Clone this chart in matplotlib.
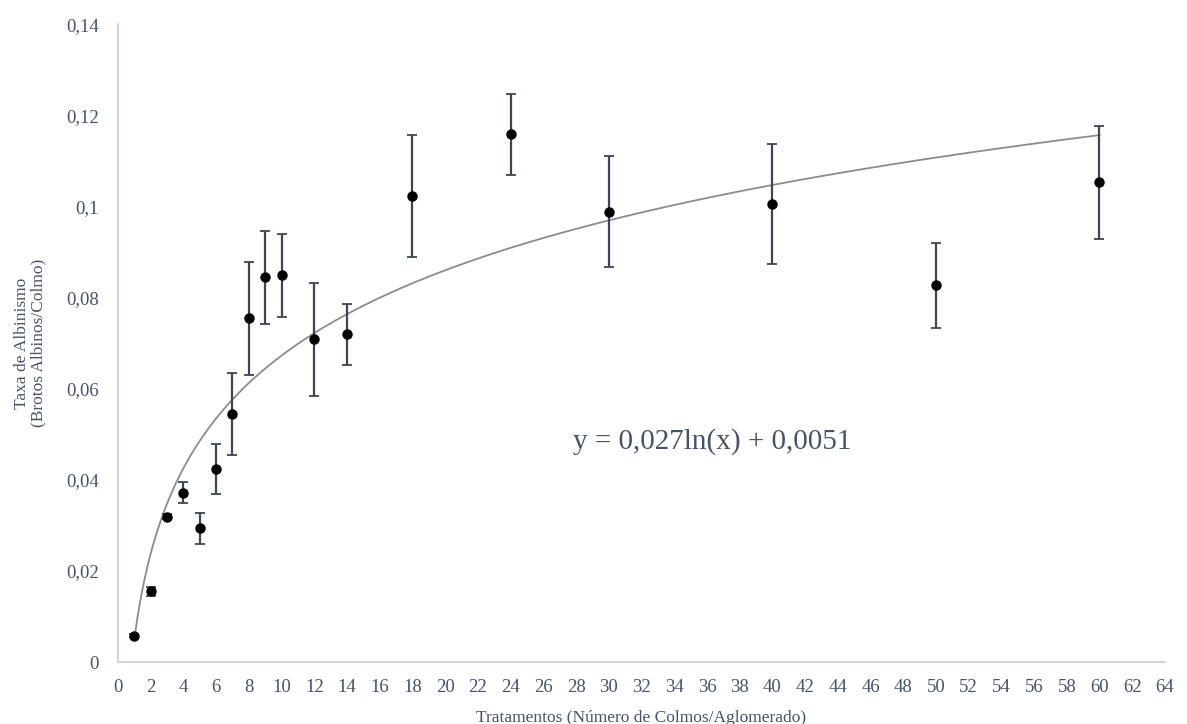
import matplotlib.pyplot as plt
import numpy as np

plt.rcParams['font.family'] = ['Liberation Serif', 'DejaVu Serif']

# tratamentos (numero de colmos por aglomerado)
tratamentos = [1, 2, 3, 4, 5, 6, 7, 8, 9, 10, 12, 14, 18, 24, 30, 40, 50, 60]
taxa = [0.0058, 0.0155, 0.0319, 0.0372, 0.0294, 0.0423, 0.0545, 0.0755, 0.0845,
        0.0849, 0.0708, 0.0719, 0.1023, 0.1158, 0.0988, 0.1006, 0.0827, 0.1053]
erro = [0.0003, 0.0010, 0.0005, 0.0024, 0.0034, 0.0055, 0.0090, 0.0124, 0.0102,
        0.0091, 0.0124, 0.0067, 0.0134, 0.0089, 0.0122, 0.0132, 0.0093, 0.0124]

# coeficientes da linha de tendencia logaritmica
coef_a = 0.027
coef_b = 0.0051

y_ticks = [0, 0.02, 0.04, 0.06, 0.08, 0.1, 0.12, 0.14]
y_labels = ['0', '0,02', '0,04', '0,06', '0,08', '0,1', '0,12', '0,14']
x_ticks = list(range(0, 65, 2))

txt = '#44546A'
fig = plt.figure(figsize=(11.87, 7.24), dpi=100)
ax = fig.add_axes([0.0994, 0.0856, 0.882, 0.881])

xt = np.linspace(1, 60, 300)
ax.plot(xt, coef_a * np.log(xt) + coef_b, color='#8C8C8C', lw=1.3, zorder=2)

ax.errorbar(tratamentos, taxa, yerr=erro, fmt='o', color='black', ms=6.5,
            ecolor='#3B4656', elinewidth=1.6, capsize=3.5, capthick=1.3, zorder=3)

ax.text(36.3, 0.0484, 'y = 0,027ln(x) + 0,0051', fontsize=21, color=txt,
        ha='center', va='center')

ax.set_xlim(0, 64)
ax.set_ylim(0, 0.14)
ax.set_xticks(x_ticks)
ax.set_xticklabels([str(v) for v in x_ticks])
ax.set_yticks(y_ticks)
ax.set_yticklabels(y_labels)
ax.tick_params(length=0, labelsize=13.5, colors=txt)
ax.tick_params(axis='x', pad=12)
ax.tick_params(axis='y', pad=14)

for s in ['top', 'right']:
    ax.spines[s].set_visible(False)
for s in ['left', 'bottom']:
    ax.spines[s].set_color('#C5CFDB')
    ax.spines[s].set_linewidth(1.2)

ax.set_ylabel('Taxa de Albinismo\n(Brotos Albinos/Colmo)', fontsize=12.5, color=txt,
              labelpad=14, linespacing=1.0)
ax.set_xlabel('Tratamentos (Número de Colmos/Aglomerado)', fontsize=12.5, color=txt,
              labelpad=10)

plt.savefig('out.png', dpi=100)
